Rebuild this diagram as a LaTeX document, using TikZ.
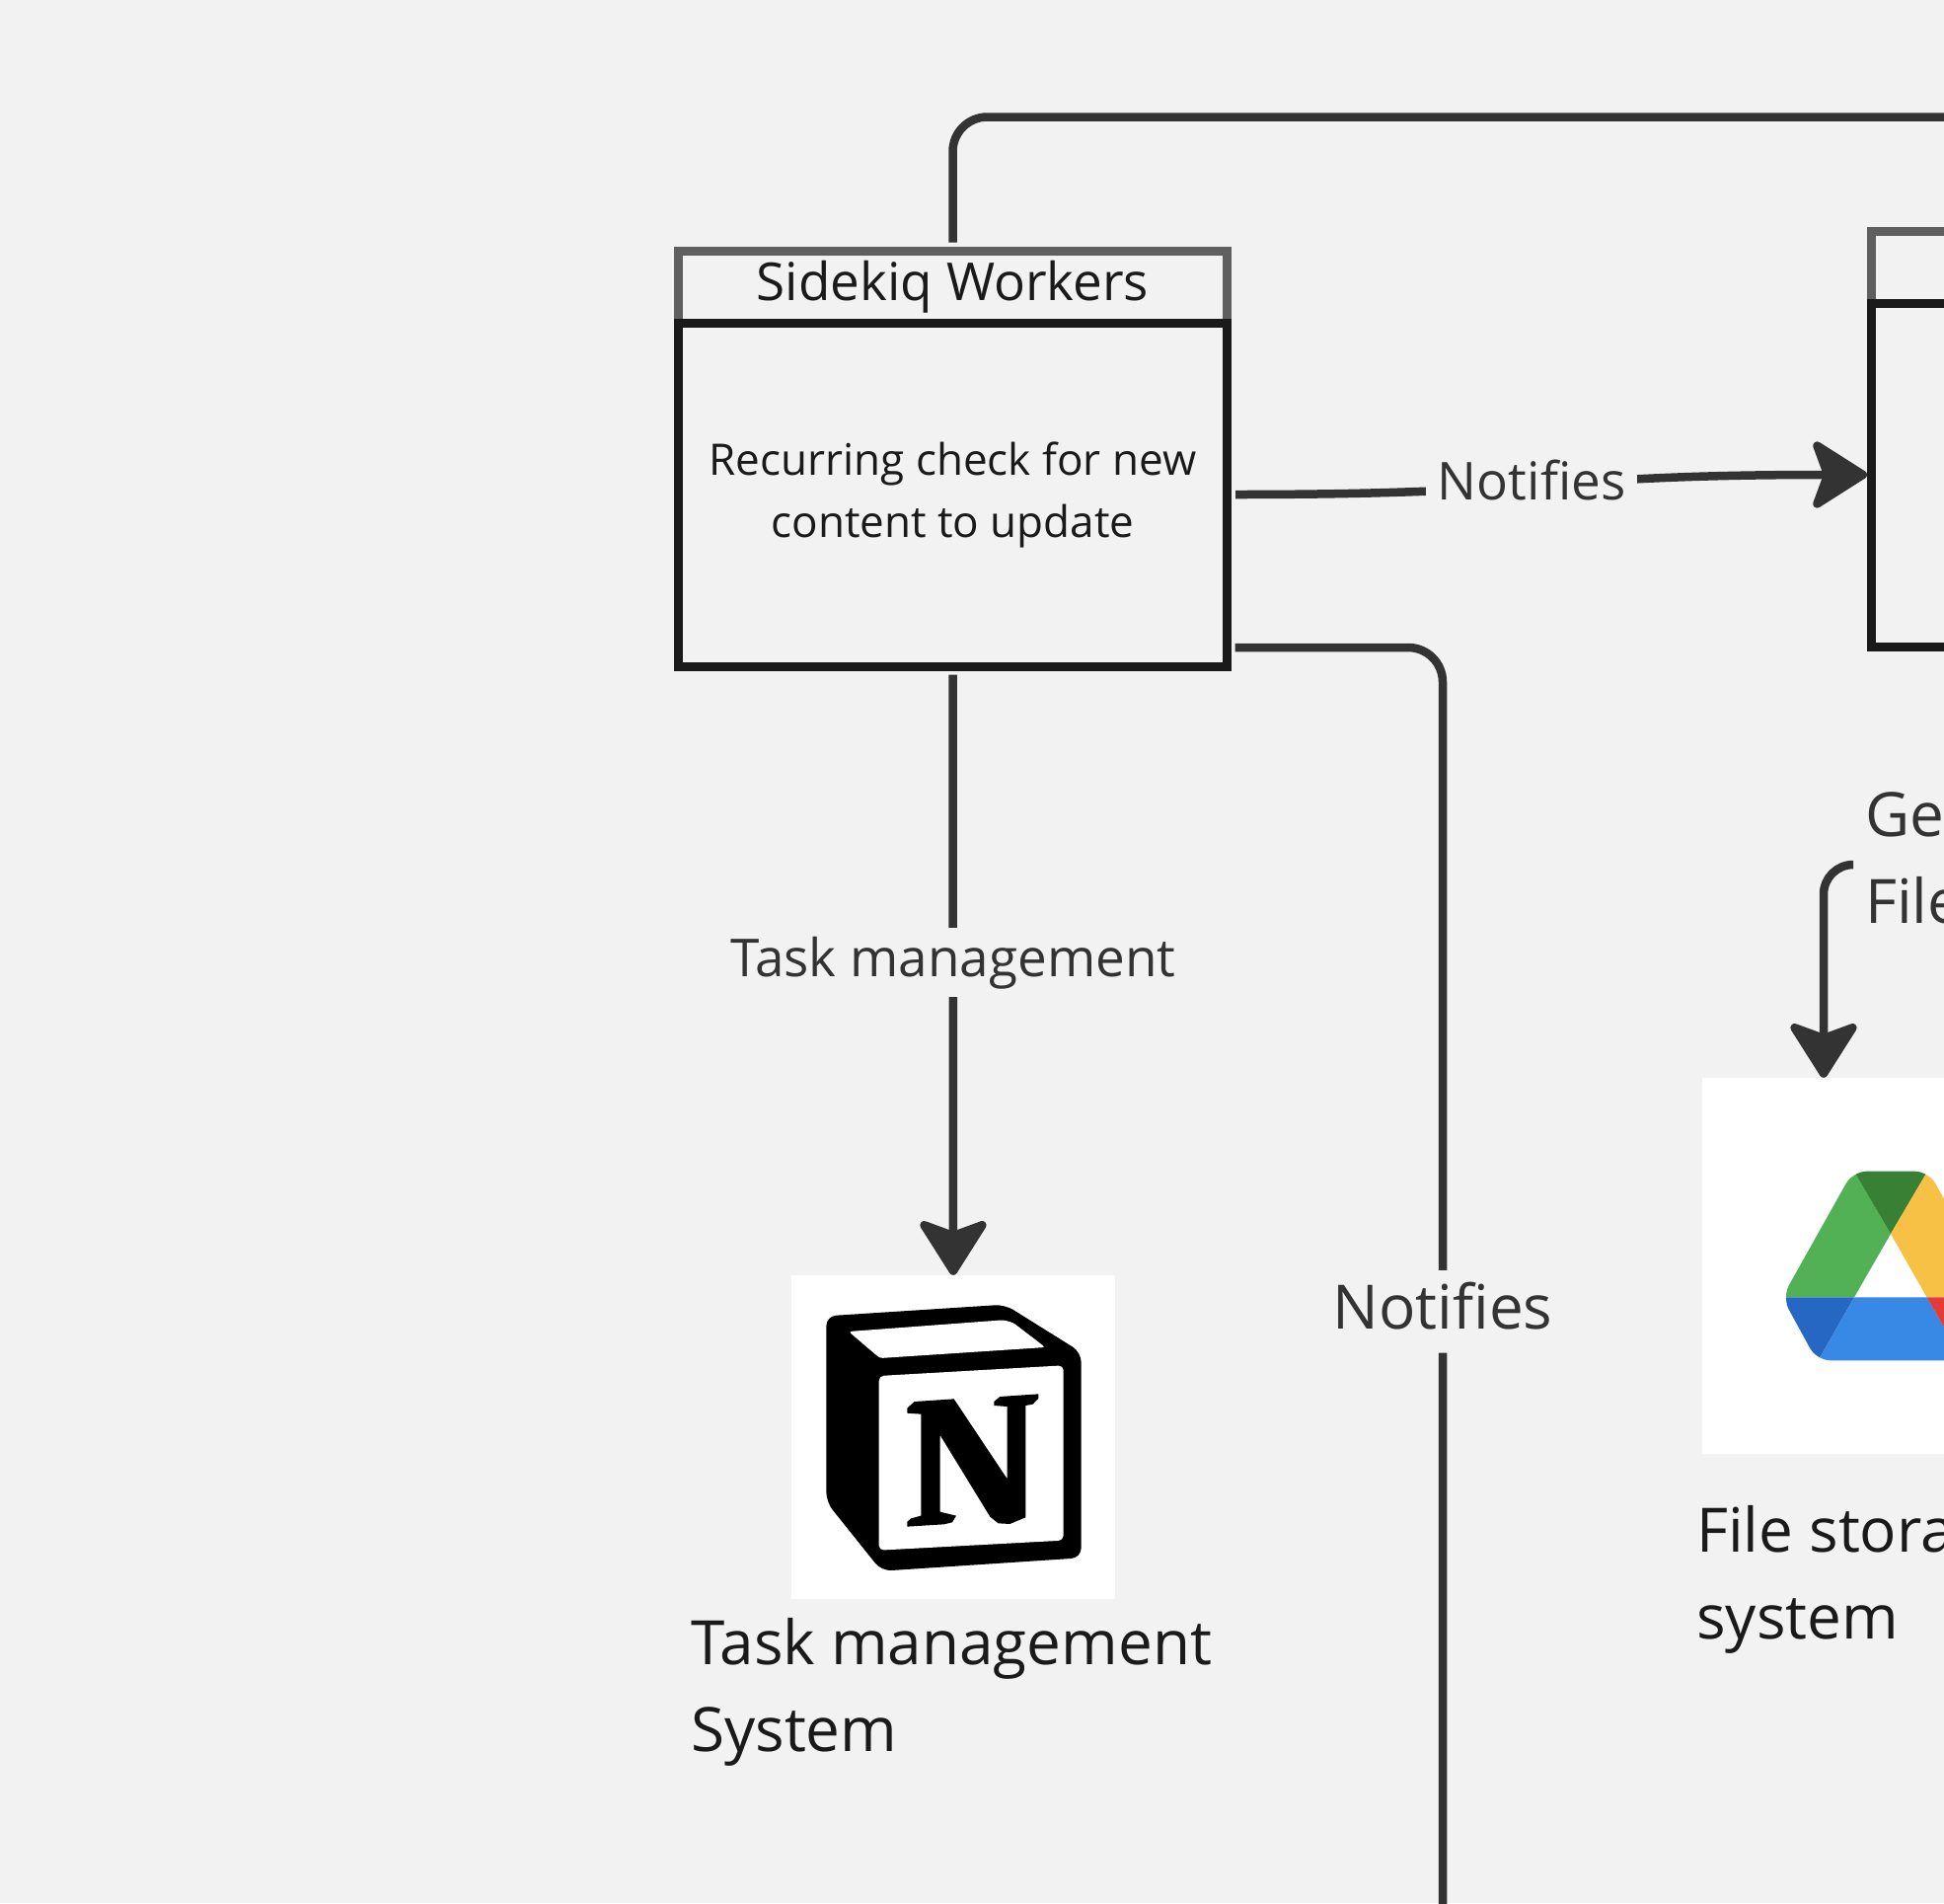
\documentclass[tikz,border=0pt]{standalone}
\usepackage{fontspec}
\setmainfont{Open Sans}
\usepackage{xcolor}
\usetikzlibrary{arrows.meta,positioning}
\definecolor{bg}{HTML}{F2F2F2}
\definecolor{ink}{HTML}{1A1A1A}
\definecolor{wire}{HTML}{333333}
\definecolor{headline}{HTML}{5F5F5F}
\definecolor{drivegreen}{HTML}{52B155}
\definecolor{drivedark}{HTML}{388033}
\definecolor{driveyellow}{HTML}{F6C144}
\definecolor{drivenavy}{HTML}{2767C4}
\definecolor{driveblue}{HTML}{3888E5}
\definecolor{drivered}{HTML}{E43B36}
\tikzset{
  bodybox/.style={draw=ink,line width=9pt,minimum width=556pt,minimum height=348pt,align=center,text=ink,inner sep=0pt,font=\fontsize{44}{63}\selectfont},
  headbox/.style={draw=headline,line width=9pt,minimum width=556pt,minimum height=73pt,text=ink,inner sep=0pt,font=\fontsize{53}{63}\selectfont},
  link/.style={draw=wire,line width=8.5pt,shorten <=4pt},
  arrowlink/.style={link,-{Stealth[length=62pt,width=78pt,inset=14pt,round]}},
  linklabel/.style={fill=bg,text=wire,inner xsep=12pt,inner ysep=9pt,text depth=12pt,font=\fontsize{53}{63}\selectfont},
  biglabel/.style={linklabel,inner ysep=12pt,font=\fontsize{62}{88}\selectfont},
  caption/.style={anchor=north west,inner sep=0pt,text=ink,align=left,font=\fontsize{62}{88}\selectfont},
  picbox/.style={fill=white,inner sep=0pt}
}
\begin{document}
\begin{tikzpicture}[x=1pt,y=-1pt]
\clip (0,0) rectangle (1970,1928);
\fill[bg] (0,0) rectangle (1970,1928);
\node[headbox] (sidehead) at (965.5,290.5) {Sidekiq Workers};
\node[bodybox,below=-9pt of sidehead] (side) {Recurring check for new\\content to update};
\node[headbox] (nexthead) at (2174.5,270.5) {};
\node[bodybox,below=-9pt of nexthead] (next) {};
\node[picbox,minimum size=328pt] (notion) at (966,1456) {};
\node[picbox,minimum width=382pt,minimum height=381pt] (drive) at (1916,1282.5) {};
\coordinate (topbend) at (965.5,118.5);
\coordinate (topexit) at (1990,118.5);
\draw[link,rounded corners=35pt] (sidehead.north) -- (topbend) -- (topexit);
\draw[arrowlink] (side.south) -- node[linklabel,pos=.483] (tasklabel) {Task management} (notion.north);
\draw[arrowlink] (side.east) .. controls (1572,501) and (1572,481) .. node[linklabel,pos=.46] (notifylabel) {Notifies} (next.west);
\coordinate (sideout) at (1247.5,656);
\coordinate (sidebend) at (1462,656);
\coordinate (sideexit) at (1462,1950);
\draw[link,rounded corners=35pt] (sideout) -- (sidebend) -- node[biglabel,pos=.52] (notifybig) {Notifies} (sideexit);
\coordinate (getout) at (1876,876);
\coordinate (getbend) at (1848,876);
\draw[arrowlink,shorten <=0pt,rounded corners=30pt] (getout) -- (getbend) -- (getbend |- drive.north);
\node[caption,text=wire] (getlabel) at (1890,802) {Get\\File};
\node[caption] (notioncaption) at (700,1639) {Task management\\System};
\node[caption] (drivecaption) at (1719,1525.5) {File storage\\system};
\begin{scope}[shift={(780,1280)},x=.3333pt,y=-.3333pt]
\fill[black,rounded corners=10pt] (172,160) -- (715,125) -- (947,270) -- (947,895) -- (340,935) -- (172,725) -- cycle;
\fill[white,rounded corners=3pt] (240,207) -- (710,172) -- (740,180) -- (838,255) -- (335,288) -- cycle;
\fill[white,rounded corners=5pt] (332,342) -- (893,310) -- (893,842) -- (332,872) -- cycle;
\fill[black] (418,455) -- (418,440) -- (440,420) -- (560,412) -- (722,655) -- (722,435) -- (682,432) -- (682,420) -- (700,405) -- (817,397) -- (817,410) -- (800,428) -- (778,432) -- (778,772) -- (730,792) -- (695,790) -- (670,770) -- (518,522) -- (518,755) -- (567,767) -- (555,787) -- (530,793) -- (418,800) -- (418,785) -- (430,775) -- (460,767) -- (460,458) -- cycle;
\end{scope}
\begin{scope}[shift={(1700,1080)},x=.3333pt,y=-.3333pt]
\clip[rounded corners=14pt] (533,320) -- (763,320) -- (978,703) -- (873,895) -- (423,895) -- (318,703) -- cycle;
\fill[drivegreen] (515,284) -- (648,510) -- (537,703) -- (280,703) -- (280,284) -- cycle;
\fill[drivedark] (515,284) -- (781,284) -- (648,510) -- cycle;
\fill[driveyellow] (781,284) -- (648,510) -- (758,703) -- (1020,703) -- (1020,284) -- cycle;
\fill[drivenavy] (280,703) -- (537,703) -- (417,913) -- (280,913) -- cycle;
\fill[driveblue] (537,703) -- (758,703) -- (879,913) -- (417,913) -- cycle;
\fill[drivered] (758,703) -- (1020,703) -- (1020,913) -- (879,913) -- cycle;
\end{scope}
\end{tikzpicture}
\end{document}
